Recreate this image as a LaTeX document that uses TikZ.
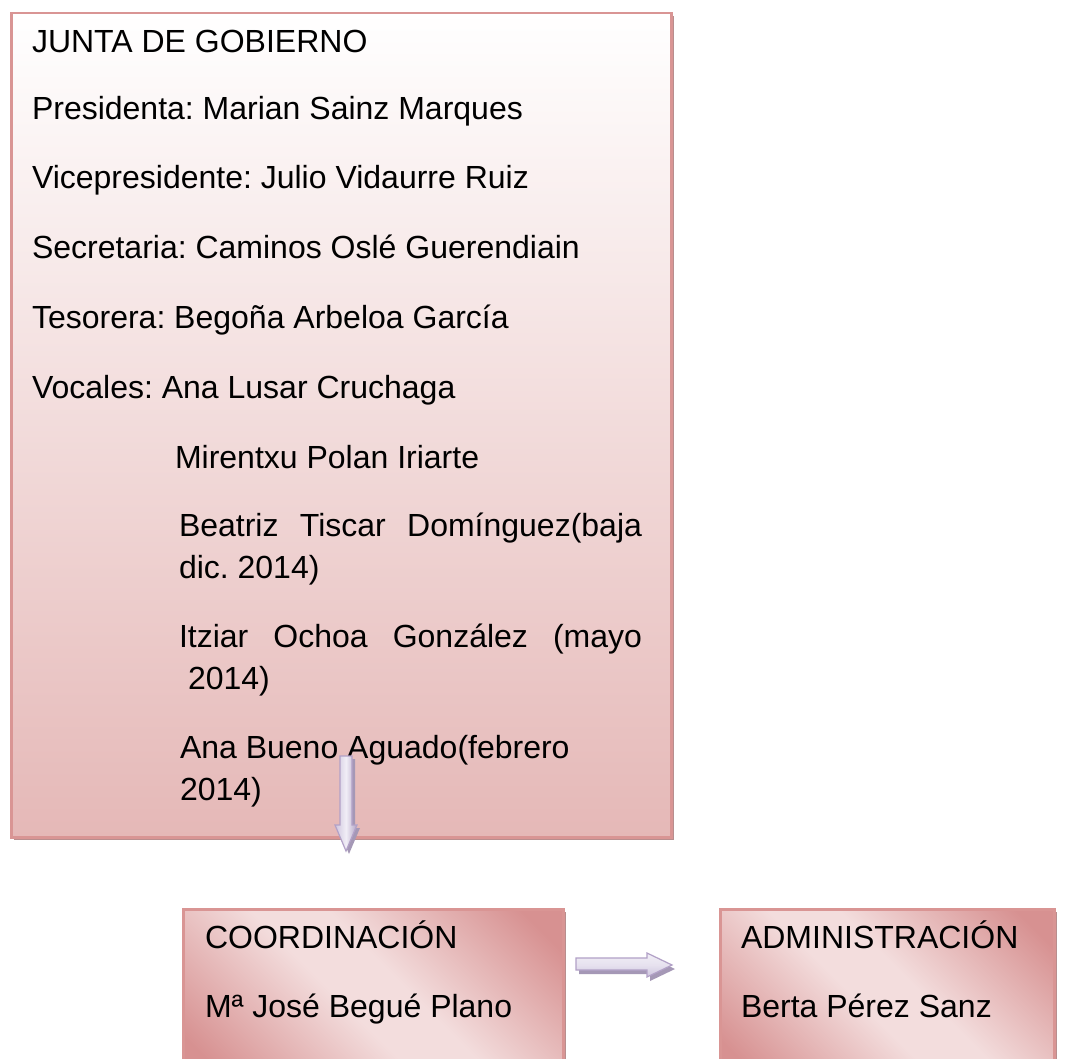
\documentclass[tikz,border=0pt]{standalone}
\usepackage{fontspec}
\setmainfont{Liberation Sans}
\usetikzlibrary{shadows}
\definecolor{pinkBorder}{RGB}{217,149,148}
\definecolor{pinkBottom}{RGB}{229,184,183}
\definecolor{pinkLight}{RGB}{243,221,221}
\definecolor{pinkDark}{RGB}{215,145,145}
\definecolor{pinkShadow}{RGB}{184,142,142}
\definecolor{lavLine}{RGB}{178,161,199}
\definecolor{lavLight}{RGB}{241,238,246}
\definecolor{lavMid}{RGB}{206,196,222}
\definecolor{lavShadow}{RGB}{165,152,182}
\pgfdeclareverticalshading{pinkdiag}{100bp}{color(0bp)=(pinkDark); color(20bp)=(pinkDark);
  color(45bp)=(pinkLight); color(55bp)=(pinkLight); color(80bp)=(pinkDark); color(100bp)=(pinkDark)}
\begin{document}
\begin{tikzpicture}[x=1pt,y=-1pt,
  txt/.style={anchor=base west, inner sep=0pt, outer sep=0pt,
    font=\fontsize{32}{42}\selectfont\frenchspacing, text=black},
  boxshadow/.style={drop shadow={shadow xshift=3pt, shadow yshift=-3pt,
    fill=pinkShadow, opacity=1}},
  bigbox/.style={draw=pinkBorder, line width=2.5pt, top color=white,
    bottom color=pinkBottom, anchor=north west, inner sep=0pt, boxshadow},
  smallbox/.style={draw=pinkBorder, line width=2.5pt, shading=pinkdiag,
    shading angle=-45, anchor=north west, inner sep=0pt, boxshadow},
  arrowshadow/.style={fill=lavShadow},
  downarrow/.style={draw=lavLine, line width=1.2pt, left color=lavMid,
    right color=lavMid!85!black!20!lavLine, middle color=lavLight, line join=miter},
  rightarrow/.style={draw=lavLine, line width=1.2pt, top color=lavLight,
    bottom color=lavMid, middle color=lavLight!70!lavMid, line join=miter}
]
\useasboundingbox (0,0) rectangle (1073,1059);
\clip (0,0) rectangle (1073,1059);
\fill[white] (0,0) rectangle (1073,1059);

% boxes
\node[bigbox, minimum width=660pt, minimum height=824pt] (junta) at (10,12) {};
\node[smallbox, minimum width=380pt, minimum height=170pt] (coord) at (182,908) {};
\node[smallbox, minimum width=334pt, minimum height=170pt] (admin) at (719,908) {};

% texts of the governing board
\node[txt] (t1) at (32,53) {JUNTA DE GOBIERNO};
\node[txt] (t2) at (32,120) {Presidenta: Marian Sainz Marques};
\node[txt] (t3) at (32,189) {Vicepresidente: Julio Vidaurre Ruiz};
\node[txt] (t4) at (32,259) {Secretaria: Caminos Oslé Guerendiain};
\node[txt] (t5) at (32,328) {Tesorera: Begoña Arbeloa García};
\node[txt] (t6) at (32,398) {Vocales: Ana Lusar Cruchaga};
\node[txt] (t7) at (175,468) {Mirentxu Polan Iriarte};
\node[txt] (t8) at (179,536) {\hbox to 463pt{Beatriz\hfill Tiscar\hfill Domínguez(baja}};
\node[txt] (t9) at (179,578) {dic. 2014)};
\node[txt] (t10) at (179,647) {\hbox to 463pt{Itziar\hfill Ochoa\hfill González\hfill (mayo}};
\node[txt] (t11) at (188,689) {2014)};
\node[txt] (t12) at (180,758) {Ana Bueno Aguado(febrero};
\node[txt] (t13) at (180,800) {2014)};

% bottom texts
\node[txt] (c1) at (205,948) {COORDINACIÓN};
\node[txt] (c2) at (205,1017) {Mª José Begué Plano};
\node[txt] (a1) at (741,948) {ADMINISTRACIÓN};
\node[txt] (a2) at (741,1017) {Berta Pérez Sanz};

% down block arrow
\coordinate (dTop) at (346,756);
\coordinate (dTip) at (346,851);
\fill[arrowshadow] ([xshift=3pt,yshift=-3pt]dTop) ++(-6,0) -- ++(12,0) -- ++(0,69) -- ++(5,0)
  -- ([xshift=3pt,yshift=-3pt]dTip) -- ++(-11,-26) -- ++(5,0) -- cycle;
\path[downarrow] (dTop) ++(-6,0) -- ++(12,0) -- ++(0,69) -- ++(5,0)
  -- (dTip) -- ++(-11,-26) -- ++(5,0) -- cycle;

% right block arrow
\coordinate (rTail) at (576,964);
\coordinate (rTip) at (672,965);
\fill[arrowshadow] ([xshift=3pt,yshift=-4pt]rTail) ++(0,-6) -- ++(71,0) -- ++(0,-5)
  -- ([xshift=3pt,yshift=-4pt]rTip) -- ++(-25,12) -- ++(0,-7) -- ++(-71,0) -- cycle;
\path[rightarrow] (rTail) ++(0,-6) -- ++(71,0) -- ++(0,-5)
  -- (rTip) -- ++(-25,12) -- ++(0,-7) -- ++(-71,0) -- cycle;
\end{tikzpicture}
\end{document}
